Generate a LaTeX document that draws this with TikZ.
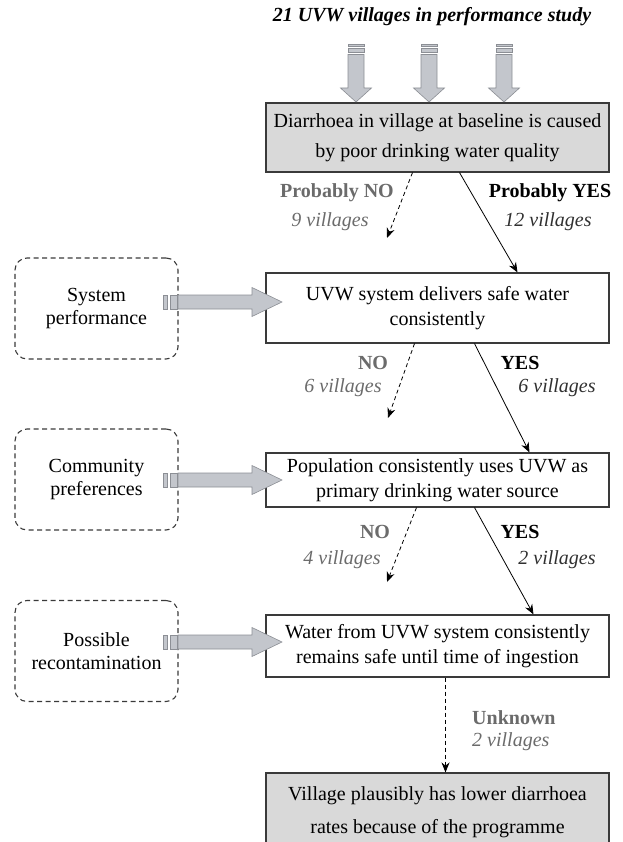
\documentclass[tikz,border=0pt]{standalone}
\usepackage{fontspec}
\setmainfont{Liberation Serif}
\usetikzlibrary{arrows.meta,calc}
\definecolor{boxgray}{HTML}{D9D9D9}
\definecolor{txtgray}{HTML}{6B6B6B}
\definecolor{txtdark}{HTML}{303030}
\definecolor{arrfill}{HTML}{C3C6CC}
\definecolor{arrdraw}{HTML}{8C8F95}
\definecolor{edge}{HTML}{3A3A3A}
\begin{document}
\begin{tikzpicture}[x=1pt,y=-1pt,
  mainbox/.style={draw=edge,line width=1.1pt,minimum width=343pt,inner sep=0pt,align=center,font=\fontsize{20}{25}\selectfont},
  grayfill/.style={fill=boxgray},
  sidebox/.style={draw=edge,line width=1.1pt,dash pattern=on 5pt off 3.5pt,rounded corners=12pt,minimum width=163pt,minimum height=101pt,inner sep=0pt,align=center,font=\fontsize{20}{23}\selectfont},
  lblbold/.style={font=\fontsize{20}{24}\selectfont\bfseries,inner sep=0pt},
  lblit/.style={font=\fontsize{20}{24}\selectfont\itshape,inner sep=0pt},
  yesarrow/.style={draw=black,line width=0.8pt,-{Stealth[length=10pt,width=8pt]}},
  noarrow/.style={draw=black,line width=0.8pt,dash pattern=on 4pt off 3pt,-{Stealth[length=10pt,width=8pt]}},
  fat/.style={fill=arrfill,draw=arrdraw,line width=0.6pt}]
\useasboundingbox (0,0) rectangle (622,842);
\clip (0,0) rectangle (622,842);

% title
\node[font=\fontsize{20}{24}\selectfont\bfseries\itshape,inner sep=0pt] (title) at (432,17) {21 UVW villages in performance study};

% main boxes
\node[mainbox,grayfill,minimum height=69pt] (b1) at (437.5,137.5) {Diarrhoea in village at baseline is caused\\[5pt]by poor drinking water quality};
\node[mainbox,minimum height=70pt] (b2) at (437.5,308) {UVW system delivers safe water\\consistently};
\node[mainbox,minimum height=54pt] (b3) at (437.5,480) {Population consistently uses UVW as\\primary drinking water source};
\node[mainbox,minimum height=62pt] (b4) at (437.5,646) {Water from UVW system consistently\\remains safe until time of ingestion};
\node[mainbox,grayfill,minimum height=78pt] (b5) at (437.5,812) {Village plausibly has lower diarrhoea\\[8pt]rates because of the programme};

% side boxes
\node[sidebox] (s1) at (96.5,308.5) {System\\performance};
\node[sidebox] (s2) at (96.5,479.5) {Community\\preferences};
\node[sidebox] (s3) at (96.5,651) {Possible\\recontamination};

% top fat arrows
\foreach \m in {356,429,504}{
  \fill[fat] (\m-8,44) rectangle (\m+8,46.5);
  \fill[fat] (\m-8,48.5) rectangle (\m+8,52.5);
  \filldraw[fat] (\m-8,54.5) -- (\m-8,88) -- (\m-15.5,88) -- (\m,102) -- (\m+15.5,88) -- (\m+8,88) -- (\m+8,54.5) -- cycle;
}
% side fat arrows
\foreach \c in {302,480,642}{
  \filldraw[fat] (163,\c-7) rectangle (167,\c+7);
  \filldraw[fat] (170,\c-7) rectangle (177,\c+7);
  \filldraw[fat] (178,\c-7) -- (252,\c-7) -- (252,\c-14.5) -- (282,\c) -- (252,\c+14.5) -- (252,\c+7) -- (178,\c+7) -- cycle;
}

% labels
\node[lblbold,text=txtgray] (pno) at (337,193) {Probably NO};
\node[lblit,text=txtgray] (pno9) at (330,222) {9 villages};
\node[lblbold] (pyes) at (550,193) {Probably YES};
\node[lblit,text=txtdark] (pyes12) at (548,222) {12 villages};
\node[lblbold,text=txtgray] (no2) at (373,363) {NO};
\node[lblit,text=txtgray] (no2v) at (343,388) {6 villages};
\node[lblbold] (yes2) at (520,363) {YES};
\node[lblit,text=txtdark] (yes2v) at (557,388) {6 villages};
\node[lblbold,text=txtgray] (no3) at (375,532) {NO};
\node[lblit,text=txtgray] (no3v) at (342,560) {4 villages};
\node[lblbold] (yes3) at (520,532) {YES};
\node[lblit,text=txtdark] (yes3v) at (557,560) {2 villages};
\node[lblbold,text=txtgray,anchor=west] (unk) at (472,718) {Unknown};
\node[lblit,text=txtgray,anchor=west] (unkv) at (472,742) {2 villages};

% free ends of NO arrows
\coordinate (t1) at (387,238);
\coordinate (t2) at (388,418);
\coordinate (t3) at (387,582);

% connectors
\draw[noarrow] ([xshift=-25pt]b1.south) -- (t1);
\draw[yesarrow] ([xshift=22pt]b1.south) -- ([xshift=80pt]b2.north);
\draw[noarrow] ([xshift=-23pt]b2.south) -- (t2);
\draw[yesarrow] ([xshift=37pt]b2.south) -- ([xshift=92pt]b3.north);
\draw[noarrow] ([xshift=-21pt]b3.south) -- (t3);
\draw[yesarrow] ([xshift=37pt]b3.south) -- ([xshift=96pt]b4.north);
\draw[noarrow] ([xshift=8pt]b4.south) -- ([xshift=8pt]b5.north);
\end{tikzpicture}
\end{document}
